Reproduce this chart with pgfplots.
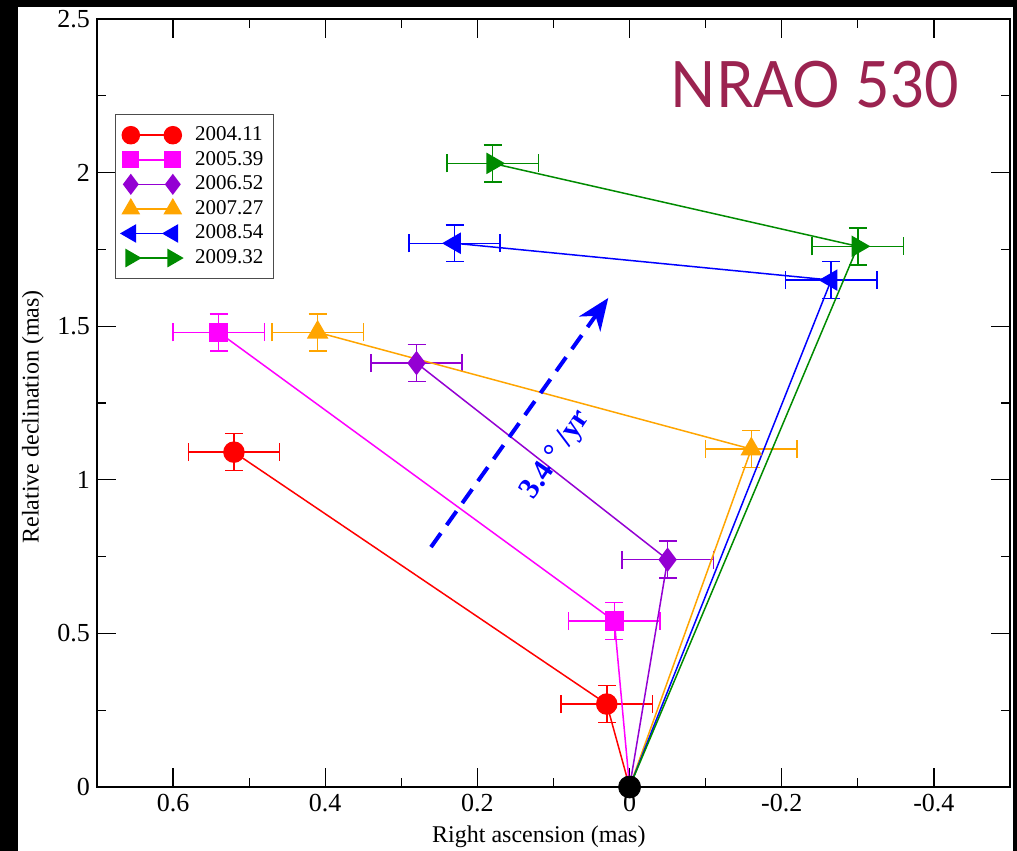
\documentclass[border=0pt]{standalone}
\usepackage{fontspec}
\setmainfont{Liberation Serif}
\newfontfamily\titlefont{Lato}
\usepackage{pgfplots}
\pgfplotsset{compat=1.18}
\usetikzlibrary{arrows.meta}
\definecolor{cred}{RGB}{255,0,0}
\definecolor{cmag}{RGB}{255,0,255}
\definecolor{cpur}{RGB}{148,0,211}
\definecolor{corg}{RGB}{255,165,0}
\definecolor{cblu}{RGB}{0,0,255}
\definecolor{cgrn}{RGB}{0,139,0}
\definecolor{ctitle}{RGB}{155,35,80}
\begin{document}
\begin{tikzpicture}
\useasboundingbox (-48.5pt,-32pt) rectangle (460pt,393.5pt);
\fill[black] (-48.5pt,-32pt) rectangle (460pt,393.5pt);
\fill[white] (-39.5pt,-32pt) rectangle (458pt,390pt);
\begin{axis}[
  scale only axis, width=456.5pt, height=384pt,
  x dir=reverse, xmin=-0.5, xmax=0.7, ymin=0, ymax=2.5,
  xtick={-0.4,-0.2,0,0.2,0.4,0.6},
  minor xtick={-0.3,-0.1,0.1,0.3,0.5},
  ytick={0,0.5,1,1.5,2,2.5},
  minor ytick={0.25,0.75,1.25,1.75,2.25},
  tick align=inside, major tick length=9.5pt, minor tick length=4.5pt,
  every tick/.style={black, line width=0.6pt},
  axis line style={line width=1pt},
  /pgf/number format/assume math mode=true,
  tick label style={font=\fontsize{13}{13}\selectfont},
  xlabel={Right ascension (mas)}, ylabel={Relative declination (mas)},
  label style={font=\fontsize{12}{12}\selectfont},
  xlabel style={at={(ticklabel cs:0.484)}},
  ylabel style={at={(ticklabel cs:0.482)}},
  legend style={at={(0.0197,0.876)}, anchor=north west, draw=black!70,
    line width=0.5pt, font=\fontsize{10.5}{11}\selectfont,
    inner xsep=3pt, inner ysep=4pt, row sep=-0.2pt, cells={anchor=west},
    /tikz/every odd column/.append style={column sep=4.5pt}},
  legend image code/.code={\draw[#1, mark indices={1,2}, every mark/.append style={scale=0.85}] plot coordinates {(0pt,0pt) (21pt,0pt)};},
  error bars/error bar style={line width=0.75pt},
  error bars/error mark options={rotate=90, mark size=4.5pt, line width=0.75pt},
]
\addplot[cred, line width=0.75pt, mark=*, mark size=5pt, mark indices={1,2},
  error bars/.cd, x dir=both, x explicit, y dir=both, y explicit]
  coordinates {(0.52,1.09) +- (0.06,0.06) (0.03,0.27) +- (0.06,0.06) (0,0) +- (0,0)};
\addlegendentry{2004.11}
\addplot[cmag, line width=0.75pt, mark=square*, mark size=4.5pt, mark indices={1,2},
  error bars/.cd, x dir=both, x explicit, y dir=both, y explicit]
  coordinates {(0.54,1.48) +- (0.06,0.06) (0.02,0.54) +- (0.06,0.06) (0,0) +- (0,0)};
\addlegendentry{2005.39}
\addplot[cpur, line width=0.75pt, mark=diamond*, mark size=5.5pt, mark indices={1,2},
  error bars/.cd, x dir=both, x explicit, y dir=both, y explicit]
  coordinates {(0.28,1.38) +- (0.06,0.06) (-0.05,0.74) +- (0.06,0.06) (0,0) +- (0,0)};
\addlegendentry{2006.52}
\addplot[corg, line width=0.75pt, mark=triangle*, mark size=5.5pt, mark indices={1,2},
  error bars/.cd, x dir=both, x explicit, y dir=both, y explicit]
  coordinates {(0.41,1.48) +- (0.06,0.06) (-0.16,1.10) +- (0.06,0.06) (0,0) +- (0,0)};
\addlegendentry{2007.27}
\addplot[cblu, line width=0.75pt, mark=triangle*, mark size=5.5pt, mark options={rotate=90}, mark indices={1,2},
  error bars/.cd, x dir=both, x explicit, y dir=both, y explicit]
  coordinates {(0.23,1.77) +- (0.06,0.06) (-0.265,1.65) +- (0.06,0.06) (0,0) +- (0,0)};
\addlegendentry{2008.54}
\addplot[cgrn, line width=0.75pt, mark=triangle*, mark size=5.5pt, mark options={rotate=-90}, mark indices={1,2},
  error bars/.cd, x dir=both, x explicit, y dir=both, y explicit]
  coordinates {(0.18,2.03) +- (0.06,0.06) (-0.30,1.76) +- (0.06,0.06) (0,0) +- (0,0)};
\addlegendentry{2009.32}
\addplot[black, only marks, mark=*, mark size=5.5pt, forget plot] coordinates {(0,0)};
\draw[cblu, line width=2pt, dash pattern=on 8.5pt off 5pt, -{Stealth[length=16pt,width=13pt,inset=5pt]}]
  (axis cs:0.261,0.781) -- (axis cs:0.028,1.592);
\node[cblu, font=\bfseries\fontsize{15}{15}\selectfont, rotate=56] at (axis cs:0.096,1.08) {3.4 ° /yr};
\node[ctitle, font=\titlefont\fontsize{32}{32}\selectfont] at (axis cs:-0.2437,2.285) {\scalebox{0.93}[1]{NRAO 530}};
\end{axis}
\end{tikzpicture}
\end{document}
